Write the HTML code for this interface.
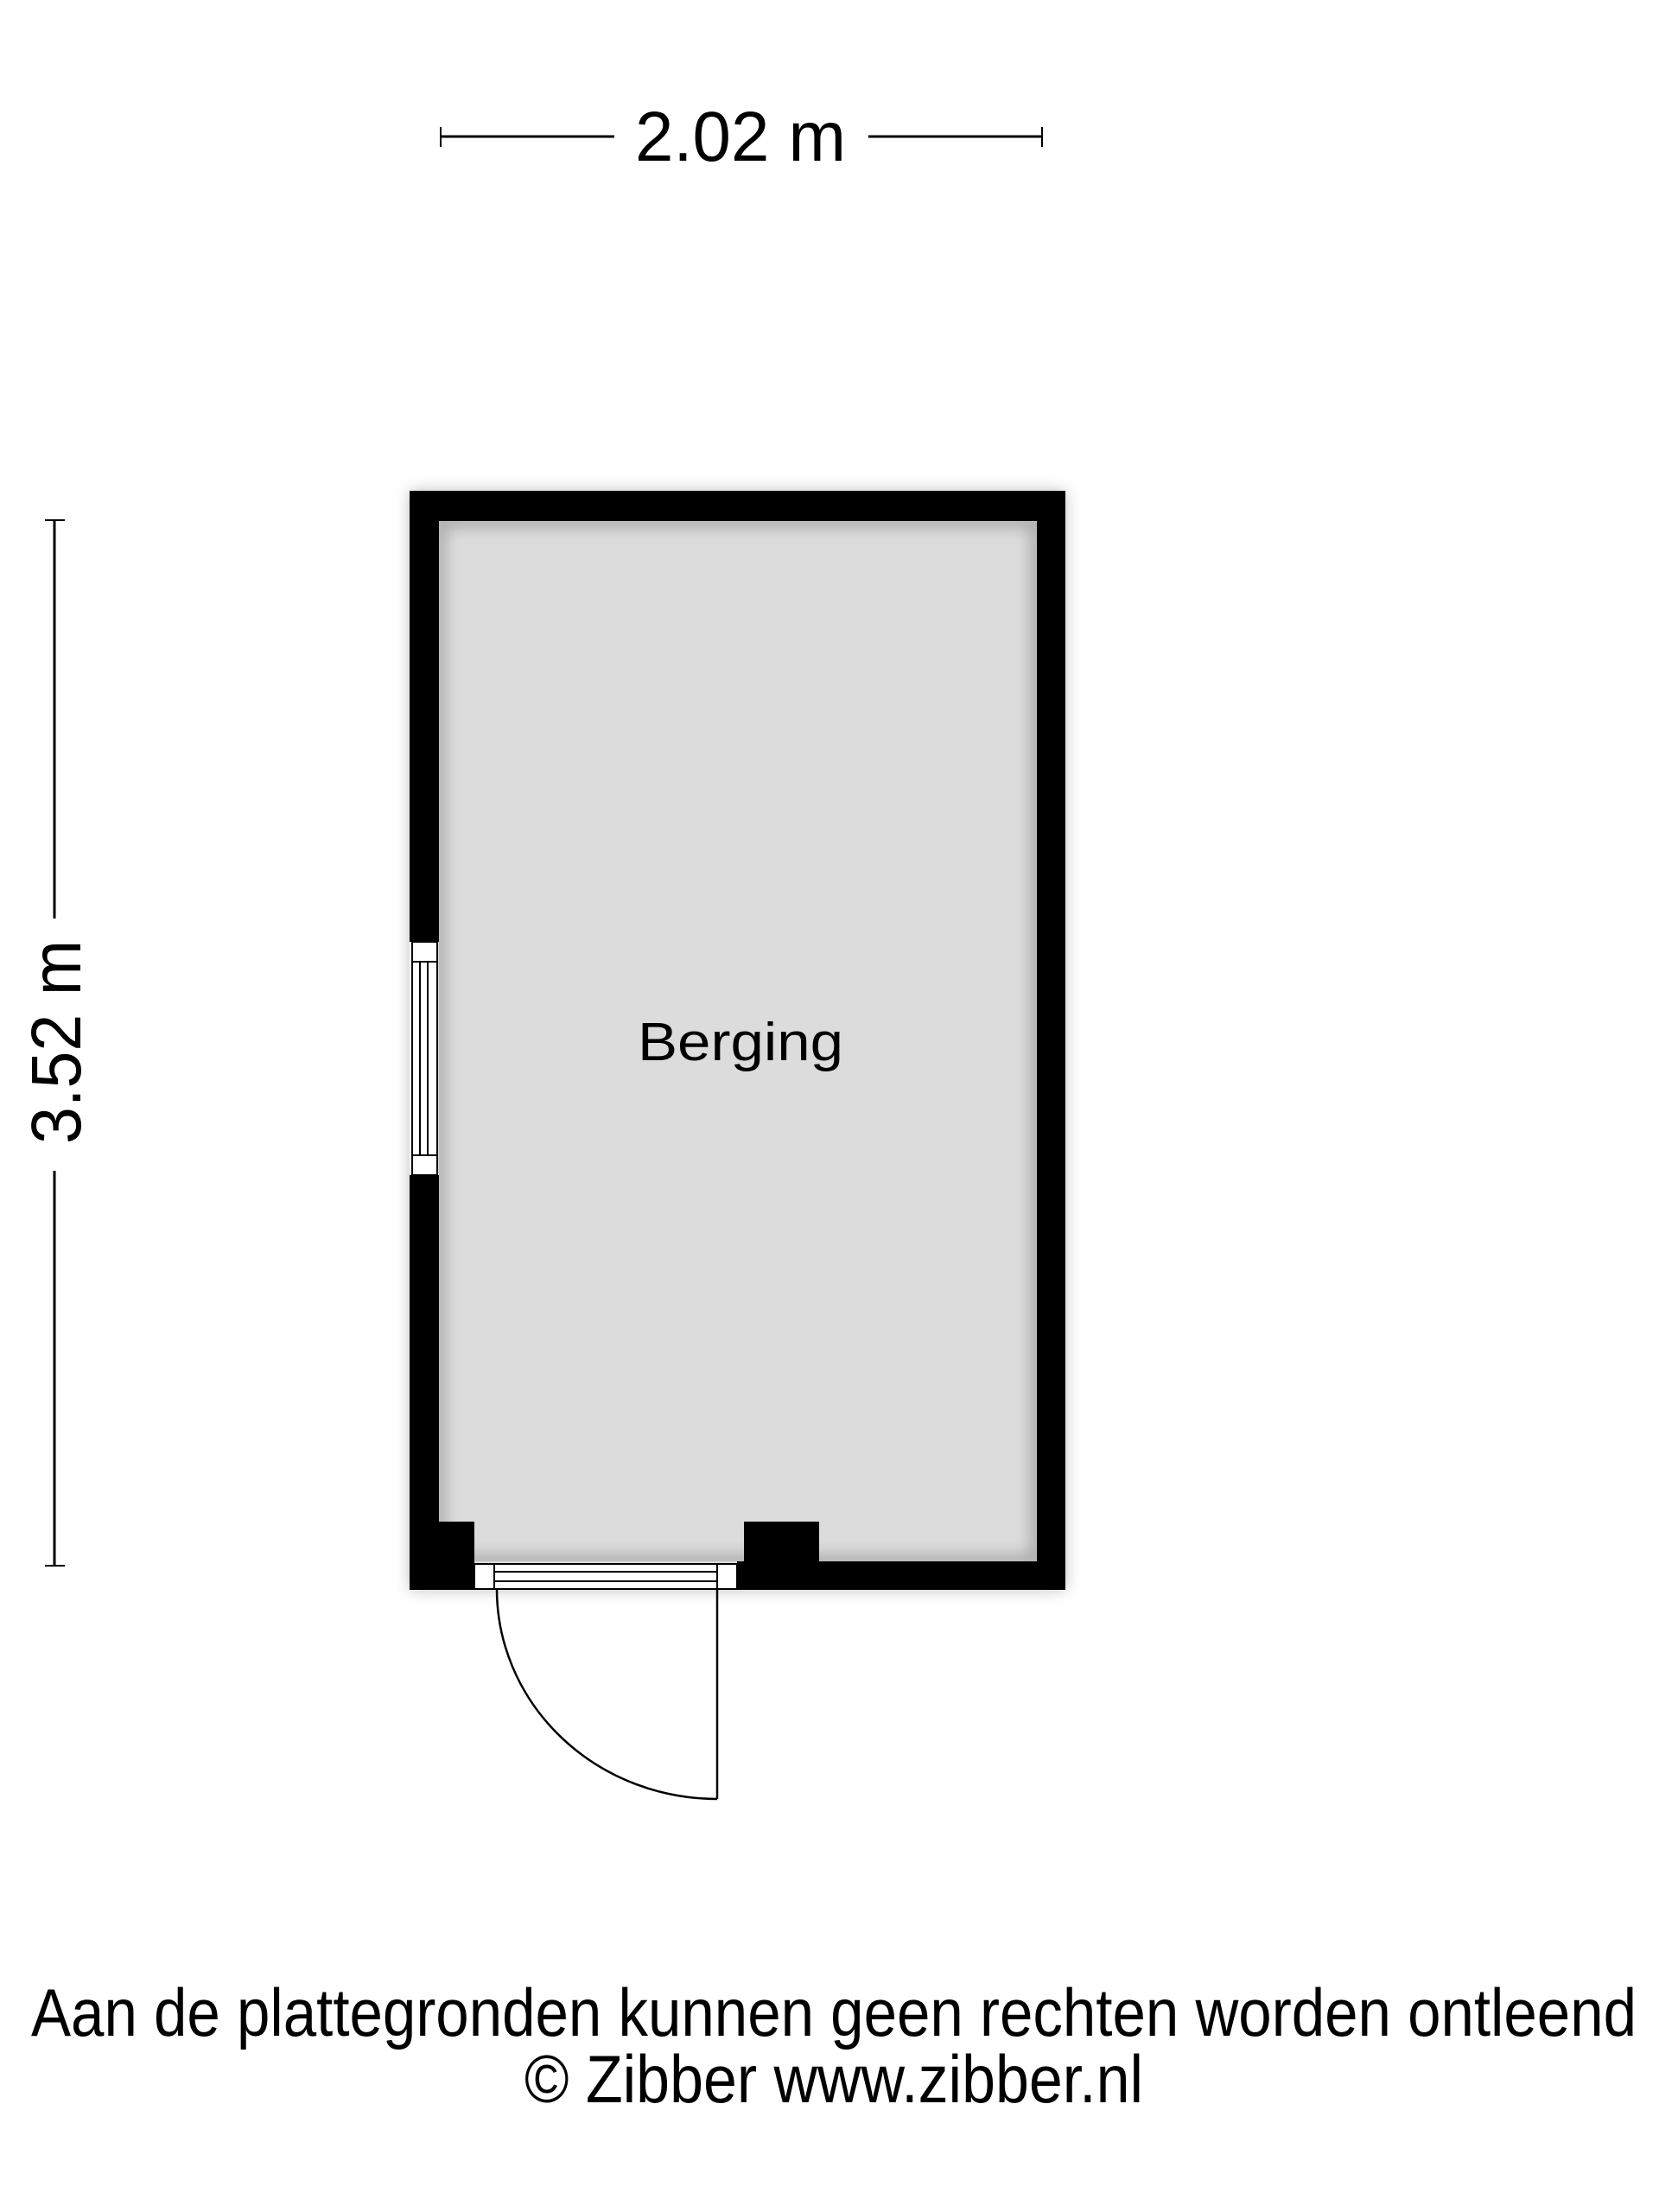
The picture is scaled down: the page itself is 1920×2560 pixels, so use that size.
<!DOCTYPE html>
<html><head><meta charset="utf-8"><style>html,body{margin:0;padding:0;background:#fff}svg{display:block}</style></head>
<body>
<svg width="1920" height="2560" viewBox="0 0 1920 2560" xmlns="http://www.w3.org/2000/svg" font-family="Liberation Sans, Arial, sans-serif">
<defs>
<filter id="sh" x="-10%" y="-10%" width="120%" height="120%"><feGaussianBlur stdDeviation="9"/></filter>
</defs>
<rect x="474" y="568" width="759" height="1272" fill="#000" opacity="0.25" filter="url(#sh)"/>
<rect x="474" y="568" width="759" height="1272" fill="#fff"/>
<rect x="508" y="603" width="692" height="1204" fill="#dcdcdc"/>
<g filter="url(#sh)" opacity="0.35" fill="none" stroke="#000" stroke-width="10">
<rect x="508" y="603" width="692" height="1204"/>
</g>
<g fill="#000">
<rect x="474" y="568" width="759" height="35"/>
<rect x="1200" y="568" width="33" height="1272"/>
<rect x="474" y="568" width="34" height="522"/>
<rect x="474" y="1360" width="34" height="480"/>
<rect x="474" y="1807" width="75" height="33"/>
<rect x="508" y="1761" width="41" height="79"/>
<rect x="853" y="1807" width="380" height="33"/>
<rect x="861" y="1761" width="87" height="79"/>
</g>
<g fill="#fff" stroke="#000" stroke-width="2">
<rect x="477" y="1090" width="29" height="270"/>
<line x1="477" y1="1113" x2="506" y2="1113"/>
<line x1="477" y1="1337" x2="506" y2="1337"/>
<line x1="486" y1="1113" x2="486" y2="1337"/>
<line x1="495" y1="1113" x2="495" y2="1337"/>
</g>
<g fill="#fff" stroke="#000" stroke-width="2">
<rect x="549" y="1810" width="304" height="29"/>
<line x1="572" y1="1810" x2="572" y2="1839"/>
<line x1="830" y1="1810" x2="830" y2="1839"/>
<line x1="572" y1="1819" x2="830" y2="1819"/>
<line x1="572" y1="1830" x2="830" y2="1830"/>
</g>
<g fill="none" stroke="#000" stroke-width="2.5">
<line x1="830" y1="1839" x2="830" y2="2082"/>
<path d="M575 1839 A255 243 0 0 0 830 2082"/>
</g>
<g stroke="#000" stroke-width="3">
<line x1="510" y1="158" x2="711" y2="158"/>
<line x1="1005" y1="158" x2="1206" y2="158"/>
<line x1="510" y1="147" x2="510" y2="170" stroke-width="2"/>
<line x1="1206" y1="147" x2="1206" y2="170" stroke-width="2"/>
</g>
<text x="735" y="186" font-size="82" textLength="244" lengthAdjust="spacingAndGlyphs">2.02 m</text>
<g stroke="#000" stroke-width="3">
<line x1="63" y1="602" x2="63" y2="1063"/>
<line x1="63" y1="1355" x2="63" y2="1812"/>
<line x1="52" y1="602" x2="75" y2="602" stroke-width="2"/>
<line x1="52" y1="1812" x2="75" y2="1812" stroke-width="2"/>
</g>
<text transform="translate(93,1324) rotate(-90)" font-size="82" textLength="236" lengthAdjust="spacingAndGlyphs">3.52 m</text>
<text x="738" y="1227" font-size="62" textLength="238" lengthAdjust="spacingAndGlyphs">Berging</text>
<text x="36" y="2356" font-size="78" textLength="1858" lengthAdjust="spacingAndGlyphs">Aan de plattegronden kunnen geen rechten worden ontleend</text>
<text x="607" y="2433" font-size="78" textLength="716" lengthAdjust="spacingAndGlyphs">© Zibber www.zibber.nl</text>
</svg>
</body></html>
